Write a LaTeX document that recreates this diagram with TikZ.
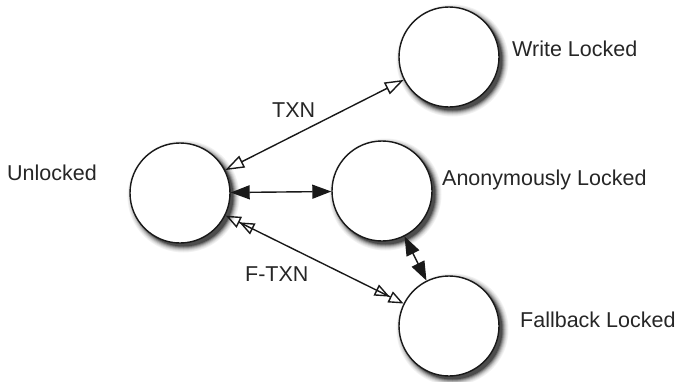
\documentclass[tikz,border=0pt]{standalone}
\usepackage{fontspec}
\setmainfont{Liberation Sans}
\usetikzlibrary{arrows.meta}

\def\castshadow#1{\foreach \r/\g in {56/5,55/10,54/18,53/28,52/40,51/55,50/70}{\fill[black!\g] ([shift={(3.5,3.5)}]#1) circle (\r);}}

\tikzset{
  state/.style={circle, draw=black!90, line width=1.4pt, fill=white,
    minimum size=100pt, inner sep=0pt},
  statename/.style={anchor=base west, inner sep=0pt, text=black!85,
    font=\fontsize{21.5}{24}\selectfont},
  solidlink/.style={line width=1.4pt, draw=black!90,
    {Triangle[length=19pt,width=14pt]}-{Triangle[length=19pt,width=14pt]}},
  openlink/.style={line width=1.4pt, draw=black!90,
    {Triangle[open,length=19pt,width=13pt]}-{Triangle[open,length=19pt,width=13pt]}},
  twolink/.style={line width=1.4pt, draw=black!90,
    {Triangle[open,length=15pt,width=12pt,sep=0.5pt]Triangle[open,length=15pt,width=12pt]}-{Triangle[open,length=15pt,width=12pt,sep=0.5pt]Triangle[open,length=15pt,width=12pt]}}
}

\begin{document}
\begin{tikzpicture}[x=1pt, y=-1pt]
			%%%%% START %%%%%
			\useasboundingbox (0, 0) rectangle (681, 381);
			
			\coordinate (unlockedpos) at (180, 193);
			\coordinate (writepos) at (449, 57);
			\coordinate (anonpos) at (382, 191);
			\coordinate (fallbackpos) at (449, 326);
			
			\castshadow{unlockedpos}
			\castshadow{writepos}
			\castshadow{anonpos}
			\castshadow{fallbackpos}
			
			% the four states
			\node[state] (unlocked) at (unlockedpos) {};
			\node[state] (write) at (writepos) {};
			\node[state] (anon) at (anonpos) {};
			\node[state] (fallback) at (fallbackpos) {};
			
			\node[statename] (unlockedname) at (7, 180) {Unlocked};
			\node[statename] (writename) at (512, 56) {Write Locked};
			\node[statename] (anonname) at (442, 185) {Anonymously Locked};
			\node[statename] (fallbackname) at (520, 327) {Fallback Locked};
			
			% transitions
			\draw[openlink] (unlocked) -- (write);
			\draw[solidlink] (unlocked) -- (anon);
			\draw[twolink] (unlocked) -- (fallback);
			\draw[solidlink] (anon) -- (fallback);
			
			\node[statename] (txn) at (272, 117) {TXN};
			\node[statename] (ftxn) at (245, 281) {F-TXN};
			
			%%%%% END %%%%%
\end{tikzpicture}
\end{document}
